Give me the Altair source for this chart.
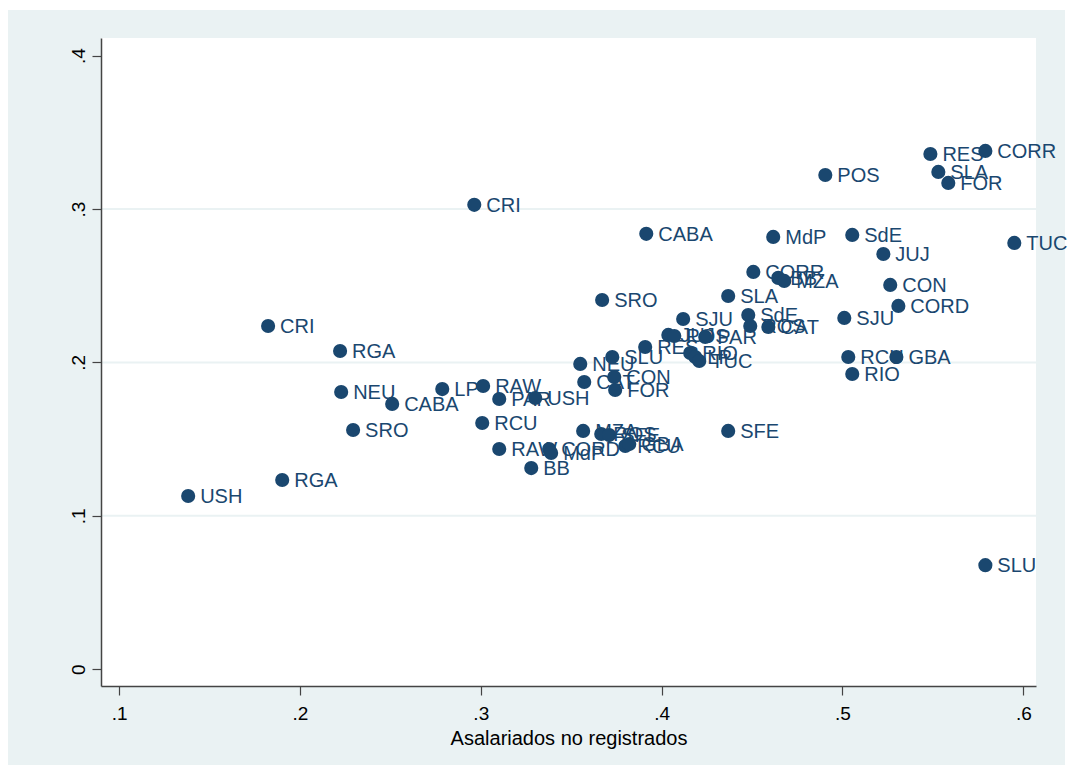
import altair as alt
import pandas as pd

# Agglomeration codes with informal-wage share (x) and the outcome rate (y)
labels = [
    "USH", "RGA", "CRI", "RGA", "NEU", "CABA", "SRO", "LP", "RAW", "PAR",
    "USH", "RCU", "RAW", "BB", "CRI", "CORD", "MdP", "NEU", "SLU", "CAT",
    "CON", "FOR", "SRO", "CABA", "RES", "JUJ", "POS", "SJU", "PAR", "RIO",
    "LP", "TUC", "SLA", "SdE", "ROS", "CAT", "CORR", "BB", "MZA", "MdP",
    "POS", "SdE", "JUJ", "CON", "CORD", "SJU", "RCU", "GBA", "RIO", "SFE",
    "TUC", "RES", "CORR", "SLA", "FOR", "SLU", "MZA", "ROS", "SFE", "RCU",
    "GBA",
]
asalariados = [
    0.1382, 0.1902, 0.1824, 0.2222, 0.2228, 0.2510, 0.2294, 0.2787, 0.3013, 0.3102,
    0.3301, 0.3008, 0.3102, 0.3279, 0.2964, 0.3378, 0.3389, 0.3550, 0.3727, 0.3572,
    0.3738, 0.3743, 0.3671, 0.3915, 0.3909, 0.4037, 0.4070, 0.4119, 0.4241, 0.4158,
    0.4186, 0.4208, 0.4368, 0.4479, 0.4490, 0.4590, 0.4507, 0.4645, 0.4678, 0.4617,
    0.4905, 0.5054, 0.5226, 0.5264, 0.5309, 0.5010, 0.5032, 0.5298, 0.5054, 0.4368,
    0.5950, 0.5486, 0.5790, 0.5530, 0.5585, 0.5790, 0.3566, 0.3666, 0.3710, 0.3799,
    0.3821,
]
tasa = [
    0.1129, 0.1233, 0.2237, 0.2074, 0.1807, 0.1729, 0.1559, 0.1826, 0.1846, 0.1761,
    0.1768, 0.1605, 0.1435, 0.1311, 0.3027, 0.1435, 0.1409, 0.1990, 0.2035, 0.1872,
    0.1905, 0.1820, 0.2407, 0.2838, 0.2100, 0.2179, 0.2172, 0.2283, 0.2166, 0.2061,
    0.2035, 0.2009, 0.2433, 0.2309, 0.2237, 0.2231, 0.2590, 0.2551, 0.2531, 0.2818,
    0.3222, 0.2831, 0.2707, 0.2505, 0.2368, 0.2290, 0.2035, 0.2035, 0.1924, 0.1553,
    0.2779, 0.3359, 0.3379, 0.3242, 0.3170, 0.0678, 0.1553, 0.1533, 0.1526, 0.1455,
    0.1468,
]

x_ticks = [0.1, 0.2, 0.3, 0.4, 0.5, 0.6]
y_ticks = [0.0, 0.1, 0.2, 0.3, 0.4]
grid_lines = [0.1, 0.2, 0.3]

NAVY = "#1a476f"
BG = "#eaf2f3"
FONT = "Liberation Sans"
W, H = 935, 648

df = pd.DataFrame({"label": labels, "x": asalariados, "y": tasa})
grid_df = pd.DataFrame({"g": grid_lines})
one = pd.DataFrame({"k": [0]})

xscale = alt.Scale(domain=[0.09, 0.607], nice=False, zero=False)
yscale = alt.Scale(domain=[-0.011, 0.4115], nice=False, zero=False)

lbl = "datum.value == 0 ? '0' : replace(format(datum.value, '.1f'), '0.', '.')"

x_axis = alt.Axis(
    values=x_ticks, labelExpr=lbl, title="Asalariados no registrados",
    titleFontSize=20, titleFontWeight="normal", titleColor="#000000",
    titlePadding=5, labelFontSize=19, labelPadding=9, zindex=1,
)
y_axis = alt.Axis(
    values=y_ticks, labelExpr=lbl, title=None, labelAngle=270,
    labelAlign="center", labelBaseline="bottom",
    labelFontSize=19, labelPadding=4, zindex=1,
)

# Outer grey panel and white plot region
outer = alt.Chart(one).mark_rect(color=BG).encode(
    x=alt.value(-93), x2=alt.value(964), y=alt.value(-28), y2=alt.value(727)
)
inner = alt.Chart(one).mark_rect(color="white").encode(
    x=alt.value(0), x2=alt.value(W), y=alt.value(0), y2=alt.value(H)
)

grid = alt.Chart(grid_df).mark_rule(color=BG, strokeWidth=2).encode(
    y=alt.Y("g:Q", scale=yscale, axis=y_axis),
    x=alt.value(0), x2=alt.value(W),
)

points = alt.Chart(df).mark_circle(size=200, opacity=1, color=NAVY).encode(
    x=alt.X("x:Q", scale=xscale, axis=x_axis),
    y=alt.Y("y:Q", scale=yscale, axis=y_axis),
)

text = alt.Chart(df).mark_text(
    align="left", baseline="middle", dx=12, dy=1, fontSize=20, font=FONT, color=NAVY
).encode(
    x=alt.X("x:Q", scale=xscale, axis=x_axis),
    y=alt.Y("y:Q", scale=yscale, axis=y_axis),
    text="label:N",
)

chart = alt.layer(outer, inner, grid, points, text).properties(
    width=W, height=H,
    autosize=alt.AutoSizeParams(type="none"),
    padding={"left": 101, "top": 38, "right": 34, "bottom": 89},
    background="white",
).configure_view(
    stroke=None
).configure_axis(
    grid=False, domainColor="#444444", tickColor="#444444", domainWidth=1.5,
    tickWidth=1.2, tickSize=9, labelColor="#000000", labelFont=FONT, titleFont=FONT,
)

chart.save("out.html", embed_options={"renderer": "svg", "actions": False})
